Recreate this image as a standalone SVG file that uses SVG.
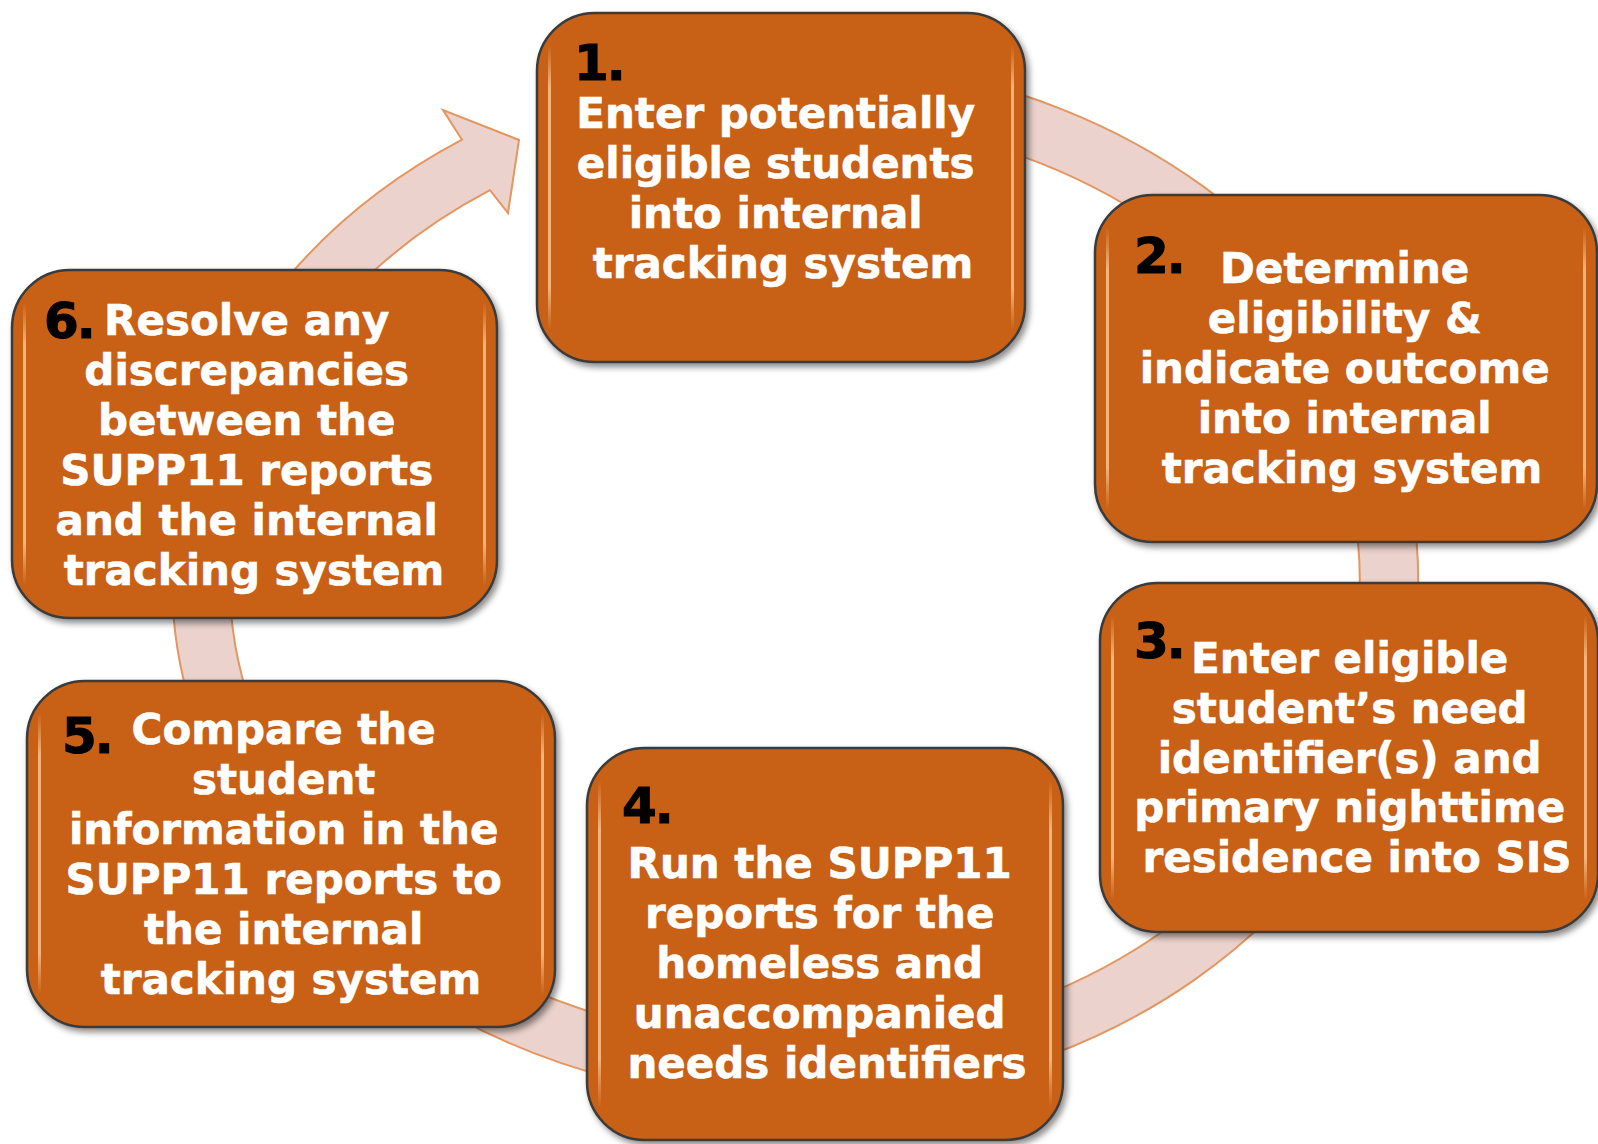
<svg xmlns="http://www.w3.org/2000/svg" width="1598" height="1144" viewBox="0 0 1598 1144">
  <style>
    .ring { fill: #EBD2CC; stroke: #E39660; stroke-width: 2; stroke-linejoin: miter; }
    .box { fill: #C86116; stroke: #3A3A3A; stroke-width: 2.5; filter: url(#shadow); }
    .glint { fill: url(#stripeFade); }
    .num { font-family: "DejaVu Sans", "Liberation Sans", sans-serif; font-weight: bold; font-size: 50px; fill: #000; stroke: #000; stroke-width: 1; letter-spacing: -2px; }
    .label { font-family: "DejaVu Sans", "Liberation Sans", sans-serif; font-weight: bold; font-size: 42px; fill: #FFFFFF; stroke: #FFFFFF; stroke-width: 0.6; text-anchor: middle; }
  </style>
  <defs>
    <filter id="shadow" x="-10%" y="-10%" width="125%" height="125%">
      <feDropShadow dx="3" dy="4" stdDeviation="3" flood-color="#000" flood-opacity="0.45"/>
    </filter>
    <!-- soft vertical highlight along the inner side edges -->
    <linearGradient id="stripeFade" x1="0" y1="0" x2="0" y2="1">
      <stop offset="0" stop-color="#FBC38E" stop-opacity="0"/>
      <stop offset="0.15" stop-color="#FBC38E" stop-opacity="0.85"/>
      <stop offset="0.85" stop-color="#FBC38E" stop-opacity="0.85"/>
      <stop offset="1" stop-color="#FBC38E" stop-opacity="0"/>
    </linearGradient>
  </defs>

  <!-- cycle arrow running clockwise behind the steps -->
  <g id="connectors">
    <path class="ring" d="M 462 139.7 L 443 110 L 519 140 L 508 213 L 490 190.2 A 565 463 0 1 0 620 139.8 L 620 80 A 623 521 0 1 1 462 139.7 Z"/>
  </g>

  <g id="step1">
    <rect class="box" x="537" y="13" width="488" height="349" rx="58"/>
    <rect class="glint" x="548" y="45" width="3" height="285"/>
    <rect class="glint" x="1011" y="45" width="3" height="285"/>
    <text class="num" x="574" y="80">1.</text>
    <text class="label">
      <tspan x="783" y="128">Enter potentially</tspan>
      <tspan x="783" y="178">eligible students</tspan>
      <tspan x="783" y="228">into internal</tspan>
      <tspan x="783" y="278">tracking system</tspan>
    </text>
  </g>

  <g id="step2">
    <rect class="box" x="1095" y="195" width="502" height="347" rx="58"/>
    <rect class="glint" x="1106" y="227" width="3" height="283"/>
    <rect class="glint" x="1583" y="227" width="3" height="283"/>
    <text class="num" x="1134" y="273">2.</text>
    <text class="label">
      <tspan x="1352" y="283">Determine</tspan>
      <tspan x="1352" y="333">eligibility &amp;</tspan>
      <tspan x="1352" y="383">indicate outcome</tspan>
      <tspan x="1352" y="433">into internal</tspan>
      <tspan x="1352" y="483">tracking system</tspan>
    </text>
  </g>

  <g id="step3">
    <rect class="box" x="1100" y="583" width="498" height="349" rx="58"/>
    <rect class="glint" x="1111" y="615" width="3" height="285"/>
    <rect class="glint" x="1584" y="615" width="3" height="285"/>
    <text class="num" x="1134" y="658">3.</text>
    <text class="label">
      <tspan x="1357" y="673">Enter eligible</tspan>
      <tspan x="1357" y="723">student’s need</tspan>
      <tspan x="1357" y="773">identifier(s) and</tspan>
      <tspan x="1357" y="822">primary nighttime</tspan>
      <tspan x="1357" y="872">residence into SIS</tspan>
    </text>
  </g>

  <g id="step4">
    <rect class="box" x="587" y="748" width="476" height="392" rx="58"/>
    <rect class="glint" x="598" y="780" width="3" height="328"/>
    <rect class="glint" x="1049" y="780" width="3" height="328"/>
    <text class="num" x="622" y="823">4.</text>
    <text class="label">
      <tspan x="827" y="878">Run the SUPP11</tspan>
      <tspan x="827" y="928">reports for the</tspan>
      <tspan x="827" y="978">homeless and</tspan>
      <tspan x="827" y="1028">unaccompanied</tspan>
      <tspan x="827" y="1078">needs identifiers</tspan>
    </text>
  </g>

  <g id="step5">
    <rect class="box" x="27" y="681" width="528" height="346" rx="58"/>
    <rect class="glint" x="38" y="713" width="3" height="282"/>
    <rect class="glint" x="541" y="713" width="3" height="282"/>
    <text class="num" x="62" y="753">5.</text>
    <text class="label">
      <tspan x="291" y="744">Compare the</tspan>
      <tspan x="291" y="794">student</tspan>
      <tspan x="291" y="844">information in the</tspan>
      <tspan x="291" y="894">SUPP11 reports to</tspan>
      <tspan x="291" y="944">the internal</tspan>
      <tspan x="291" y="994">tracking system</tspan>
    </text>
  </g>

  <g id="step6">
    <rect class="box" x="12" y="270" width="485" height="348" rx="58"/>
    <rect class="glint" x="23" y="302" width="3" height="284"/>
    <rect class="glint" x="483" y="302" width="3" height="284"/>
    <text class="num" x="44" y="338">6.</text>
    <text class="label">
      <tspan x="254" y="335">Resolve any</tspan>
      <tspan x="254" y="385">discrepancies</tspan>
      <tspan x="254" y="435">between the</tspan>
      <tspan x="254" y="485">SUPP11 reports</tspan>
      <tspan x="254" y="535">and the internal</tspan>
      <tspan x="254" y="585">tracking system</tspan>
    </text>
  </g>
</svg>
